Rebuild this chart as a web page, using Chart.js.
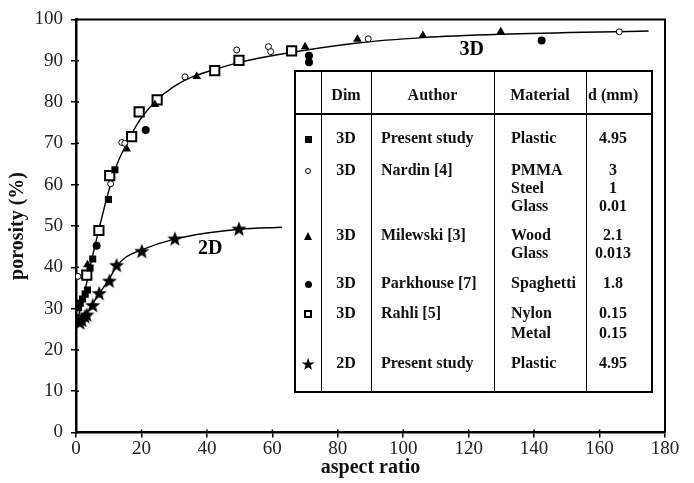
<!DOCTYPE html>
<html>
<head>
<meta charset="utf-8">
<script src="https://cdn.jsdelivr.net/npm/chart.js@4/dist/chart.umd.min.js"></script>
<style>
  html, body { margin: 0; padding: 0; background: #fff; }
  #wrap { position: relative; width: 694px; height: 483px; }
  #wrap canvas { position: absolute; left: 0; top: 0; }
  .cell { position: absolute; font-family: "Liberation Serif", "Times New Roman", serif; font-weight: bold;
          font-size: 16px; line-height: 18px; color: #111; white-space: nowrap; }
  .rule { position: absolute; background: #000; }
  .mk { position: absolute; box-sizing: border-box; }
</style>
</head>
<body>
<div id="wrap">
  <canvas id="chart" width="694" height="483"></canvas>
</div>
<script>
// ---- data ----
// 3D, present study (filled squares)
const present3dX = [0.8, 1.3, 2.0, 2.8, 3.5, 4.3, 5.1, 9.9, 11.9];
const present3dY = [30.2, 31.3, 32.3, 33.5, 34.5, 39.8, 42.0, 56.4, 63.6];
// Nardin [4] (open circles)
const nardinX = [0.6, 10.6, 14.0, 14.9, 33.3, 49.1, 58.8, 59.5, 89.3, 166];
const nardinY = [37.8, 60.2, 70.2, 70.0, 86.1, 92.6, 93.4, 92.2, 95.3, 97.0];
// Milewski [3] (filled triangles)
const milewskiX = [3.5, 15.5, 24.1, 36.9, 70, 86, 106, 129.8];
const milewskiY = [40.6, 68.6, 79.4, 86.2, 93.4, 95.2, 96.1, 97.0];
// Parkhouse [7] (filled circles)
const parkhouseX = [6.3, 21.3, 71.2, 71.2, 142.3];
const parkhouseY = [45.2, 73.2, 91.2, 89.6, 94.9];
// Rahli [5] (open squares)
const rahliX = [3.3, 7.0, 10.3, 17.0, 19.3, 24.8, 42.4, 49.8, 65.9];
const rahliY = [38.1, 48.9, 62.2, 71.6, 77.6, 80.5, 87.6, 90.1, 92.4];
// 2D, present study (stars)
const stars2dX = [0.5, 1.2, 1.8, 2.7, 3.3, 5.1, 7.1, 10.2, 12.4, 20.1, 30.2, 49.8];
const stars2dY = [27.2, 26.7, 27.3, 28.2, 28.6, 30.9, 33.8, 36.8, 40.6, 44.0, 47.0, 49.4];
// fitted curves
const curve3dX = [0.5, 2.5, 4.5, 6.8, 9.5, 12, 14.5, 17, 20, 24.7, 30, 35, 42.4, 50, 62, 86, 106, 130, 175];
const curve3dY = [27.5, 33.5, 40.8, 48.5, 57, 63.8, 68.4, 72.3, 76.2, 80.5, 83.8, 85.9, 87.9, 89.6, 91.5, 94.3, 95.6, 96.4, 97.2];
const curve2dX = [0.3, 2, 4, 7, 10, 12.5, 15, 20, 30, 40, 50, 63];
const curve2dY = [26.5, 27.6, 29.8, 33.5, 37, 40.3, 42.3, 44.2, 46.8, 48.3, 49.2, 49.7];

// legend table
const headers = ['Dim', 'Author', 'Material', 'd (mm)'];
const legendDims = ['3D', '3D', '3D', '3D', '3D', '2D'];
const legendAuthors = ['Present study', 'Nardin [4]', 'Milewski [3]', 'Parkhouse [7]', 'Rahli [5]', 'Present study'];
const legendMaterials = [['Plastic'], ['PMMA', 'Steel', 'Glass'], ['Wood', 'Glass'], ['Spaghetti'], ['Nylon', 'Metal'], ['Plastic']];
const legendSizes = [['4.95'], ['3', '1', '0.01'], ['2.1', '0.013'], ['1.8'], ['0.15', '0.15'], ['4.95']];

const xTicks = { min: 0, max: 180, step: 20 };
const yTicks = { min: 0, max: 100, step: 10 };

function pts(xs, ys) { return xs.map((x, i) => ({ x: x, y: ys[i] })); }

// filled 5-point star used as point style
function makeStar(r) {
  const c = document.createElement('canvas');
  const s = Math.ceil(r * 2 + 2);
  c.width = s; c.height = s;
  const g = c.getContext('2d');
  g.beginPath();
  for (let i = 0; i < 10; i++) {
    const rr = i % 2 ? r * 0.42 : r;
    const a = -Math.PI / 2 + i * Math.PI / 5;
    const px = s / 2 + rr * Math.cos(a), py = s / 2 + 1 + rr * Math.sin(a);
    i ? g.lineTo(px, py) : g.moveTo(px, py);
  }
  g.closePath();
  g.fillStyle = '#000';
  g.fill();
  return c;
}
const starImg = makeStar(8);

// frame, inner tick halves, curve labels
const extras = {
  id: 'extras',
  beforeDatasetsDraw(chart) {
    const { ctx, chartArea: a, scales: { x, y } } = chart;
    ctx.save();
    ctx.strokeStyle = '#000';
    ctx.lineWidth = 2;
    ctx.beginPath();
    ctx.moveTo(a.left, a.top);
    ctx.lineTo(a.right, a.top);
    ctx.lineTo(a.right, a.bottom);
    ctx.stroke();
    ctx.lineWidth = 1.5;
    ctx.beginPath();
    x.ticks.forEach(t => {
      const px = x.getPixelForValue(t.value);
      ctx.moveTo(px, a.bottom); ctx.lineTo(px, a.bottom - 3);
    });
    y.ticks.forEach(t => {
      const py = y.getPixelForValue(t.value);
      ctx.moveTo(a.left, py); ctx.lineTo(a.left + 3, py);
    });
    ctx.stroke();
    ctx.restore();
  },
  afterDatasetsDraw(chart) {
    const { ctx, scales: { x, y } } = chart;
    ctx.save();
    ctx.fillStyle = '#000';
    ctx.font = 'bold 20px "Liberation Serif"';
    ctx.textAlign = 'center';
    ctx.textBaseline = 'middle';
    ctx.fillText('3D', x.getPixelForValue(120.9), y.getPixelForValue(92.6));
    ctx.fillText('2D', x.getPixelForValue(41), y.getPixelForValue(44.4));
    ctx.restore();
  }
};

new Chart(document.getElementById('chart'), {
  type: 'scatter',
  data: {
    datasets: [
      { label: '3D fit', data: pts(curve3dX, curve3dY), showLine: true, pointRadius: 0,
        borderColor: '#000', borderWidth: 1.4, cubicInterpolationMode: 'monotone', order: 10 },
      { label: '2D fit', data: pts(curve2dX, curve2dY), showLine: true, pointRadius: 0,
        borderColor: '#000', borderWidth: 1.4, cubicInterpolationMode: 'monotone', order: 10 },
      { label: 'Rahli [5]', data: pts(rahliX, rahliY), pointStyle: 'rect', pointRadius: 6.5,
        backgroundColor: '#fff', borderColor: '#000', borderWidth: 2, order: 5 },
      { label: 'Nardin [4]', data: pts(nardinX, nardinY), pointStyle: 'circle', pointRadius: 3,
        backgroundColor: '#fff', borderColor: '#000', borderWidth: 1, order: 4 },
      { label: 'Milewski [3]', data: pts(milewskiX, milewskiY), pointStyle: 'triangle', pointRadius: 5,
        backgroundColor: '#000', borderColor: '#000', borderWidth: 0, order: 3 },
      { label: 'Parkhouse [7]', data: pts(parkhouseX, parkhouseY), pointStyle: 'circle', pointRadius: 4,
        backgroundColor: '#000', borderColor: '#000', borderWidth: 0, order: 2 },
      { label: 'Present study 3D', data: pts(present3dX, present3dY), pointStyle: 'rect', pointRadius: 5,
        backgroundColor: '#000', borderColor: '#000', borderWidth: 0, order: 1 },
      { label: 'Present study 2D', data: pts(stars2dX, stars2dY), pointStyle: starImg, order: 0 }
    ]
  },
  options: {
    responsive: false,
    animation: false,
    events: [],
    layout: { padding: { left: 0, right: 29, top: 16, bottom: 0 } },
    plugins: { legend: { display: false }, tooltip: { enabled: false } },
    scales: {
      x: {
        type: 'linear', min: xTicks.min, max: xTicks.max,
        afterFit: s => { s.height = 50.5; },
        border: { display: true, color: '#000', width: 2.5 },
        grid: { drawOnChartArea: false, color: '#000', lineWidth: 1.5, tickLength: 5 },
        ticks: { stepSize: xTicks.step, color: '#222', padding: 0,
                 font: { family: '"Liberation Serif"', size: 19 } },
        title: { display: true, text: 'aspect ratio', color: '#111', padding: { top: 0, bottom: 3 },
                 font: { family: '"Liberation Serif"', size: 20, weight: 'bold' } }
      },
      y: {
        type: 'linear', min: yTicks.min, max: yTicks.max,
        afterFit: s => { s.width = 76; },
        border: { display: true, color: '#000', width: 2.5 },
        grid: { drawOnChartArea: false, color: '#000', lineWidth: 1.5, tickLength: 5 },
        ticks: { stepSize: yTicks.step, color: '#222', padding: 8,
                 font: { family: '"Liberation Serif"', size: 19 } },
        title: { display: true, text: 'porosity (%)', color: '#111', padding: { top: 6, bottom: 0 },
                 font: { family: '"Liberation Serif"', size: 20, weight: 'bold' } }
      }
    }
  },
  plugins: [extras]
});

// ---- legend table (HTML overlay) ----
const wrap = document.getElementById('wrap');
const box = { left: 295, top: 71, right: 652, bottom: 392, headBottom: 114 };
const colEdges = [295, 321, 371, 494, 586, 652];
const rowCenters = [138, 170, 235, 283, 313, 363];
const lineGaps = [18, 18, 18, 18, 20, 18];

function rule(l, t, w, h) {
  const d = document.createElement('div');
  d.className = 'rule';
  Object.assign(d.style, { left: l + 'px', top: t + 'px', width: w + 'px', height: h + 'px' });
  wrap.appendChild(d);
}
function text(str, l, w, cy, align) {
  const d = document.createElement('div');
  d.className = 'cell';
  d.textContent = str;
  Object.assign(d.style, { left: l + 'px', top: (cy - 9) + 'px', width: w + 'px', textAlign: align });
  wrap.appendChild(d);
}
// outer box and rules
rule(box.left - 1.25, box.top - 1.25, box.right - box.left + 2.5, 2.5);
rule(box.left - 1.25, box.bottom - 1.25, box.right - box.left + 2.5, 2.5);
rule(box.left - 1.25, box.top - 1.25, 2.5, box.bottom - box.top + 2.5);
rule(box.right - 1.25, box.top - 1.25, 2.5, box.bottom - box.top + 2.5);
rule(box.left, box.headBottom - 1.25, box.right - box.left, 2.5);
for (let i = 1; i < colEdges.length - 1; i++) rule(colEdges[i] - 0.5, box.top, 1, box.bottom - box.top);

// headers
const headCy = 95;
text(headers[0], colEdges[1], colEdges[2] - colEdges[1], headCy, 'center');
text(headers[1], colEdges[2], colEdges[3] - colEdges[2], headCy, 'center');
text(headers[2], colEdges[3], colEdges[4] - colEdges[3], headCy, 'center');
text(headers[3], colEdges[4] + 2, colEdges[5] - colEdges[4] - 2, headCy, 'left');

// markers
function marker(i, cy) {
  const d = document.createElement('div');
  d.className = 'mk';
  const cx = 308;
  let w = 7, h = 7;
  const st = d.style;
  if (i === 0) { st.background = '#000'; }
  else if (i === 1) { w = h = 6; st.border = '1px solid #000'; st.borderRadius = '50%'; }
  else if (i === 2) { w = 0; h = 0; st.borderLeft = '4.5px solid transparent'; st.borderRight = '4.5px solid transparent';
                      st.borderBottom = '8px solid #000'; st.left = (cx - 4.5) + 'px'; st.top = (cy - 4.5) + 'px'; }
  else if (i === 3) { st.background = '#000'; st.borderRadius = '50%'; }
  else if (i === 4) { w = h = 8; st.border = '2px solid #000'; }
  if (i === 5) {
    d.className = 'cell';
    d.textContent = '\u2605';
    Object.assign(st, { fontFamily: '"DejaVu Sans"', fontWeight: 'normal', fontSize: '17px',
                        left: (cx - 8) + 'px', top: (cy - 9) + 'px', width: '16px', textAlign: 'center', color: '#000' });
  } else if (i !== 2) {
    Object.assign(st, { left: (cx - w / 2) + 'px', top: (cy - h / 2) + 'px', width: w + 'px', height: h + 'px' });
  }
  wrap.appendChild(d);
}

for (let r = 0; r < legendDims.length; r++) {
  const cy = rowCenters[r];
  marker(r, cy + 1);
  text(legendDims[r], colEdges[1], colEdges[2] - colEdges[1], cy, 'center');
  text(legendAuthors[r], 381, colEdges[3] - 381, cy, 'left');
  legendMaterials[r].forEach((m, k) => text(m, 511, colEdges[4] - 511, cy + k * lineGaps[r], 'left'));
  legendSizes[r].forEach((v, k) => text(v, colEdges[4], 54, cy + k * lineGaps[r], 'center'));
}
</script>
</body>
</html>
